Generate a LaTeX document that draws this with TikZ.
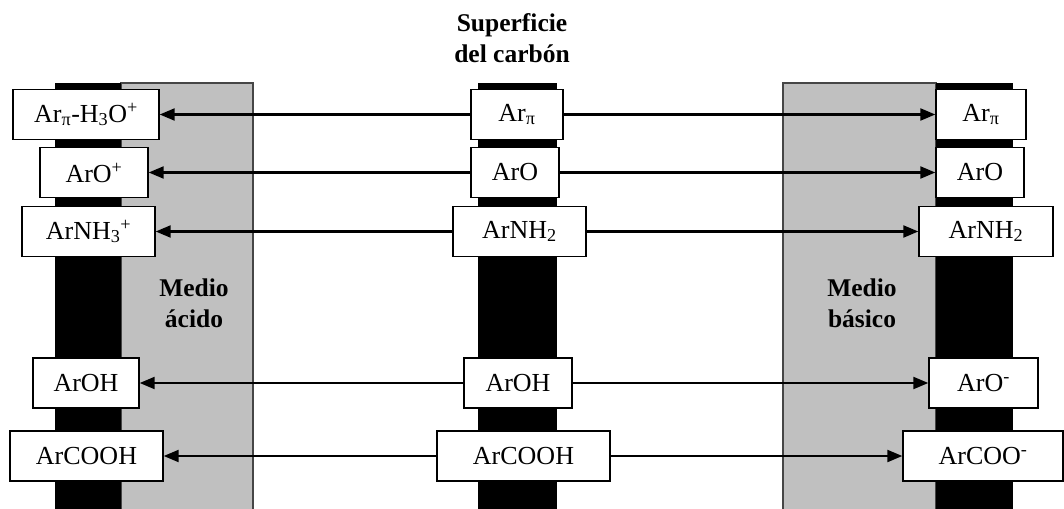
\documentclass[tikz,border=0pt]{standalone}
\usepackage{fontspec}
\setmainfont{Liberation Serif}
\usetikzlibrary{arrows.meta}
\definecolor{medgray}{RGB}{192,192,192}
\definecolor{edgegray}{RGB}{70,70,70}
\tikzset{
  box/.style={draw=black, line width=1.4pt, fill=white, inner sep=0pt, minimum height=50pt,
    font=\fontsize{26}{30}\selectfont},
  arr/.style={line width=2.2pt, -{Triangle[length=15pt,width=12pt]}},
  lbl/.style={font=\fontsize{25.5}{31}\selectfont\bfseries, align=center, inner sep=0pt},
  bar/.style={fill=black},
  medio/.style={fill=medgray, draw=edgegray, line width=1.3pt}
}
\begin{document}
\begin{tikzpicture}[x=1pt,y=-1pt]
\useasboundingbox (0,0) rectangle (1064,508);
% media
\draw[medio] (121,83) rectangle (253,512);
\draw[medio] (783,83) rectangle (936,512);
% bars
\fill[bar] (55,83) rectangle (121,512);
\fill[bar] (478,83) rectangle (557,512);
\fill[bar] (936,83) rectangle (1013,512);
% center boxes
\node[box, minimum width=92pt]  (C1) at (517,114.5) {Ar\textsubscript{π}};
\node[box, minimum width=88pt]  (C2) at (515,172.5) {ArO};
\node[box, minimum width=133pt] (C3) at (519.5,231.5) {ArNH\textsubscript{2}};
\node[box, minimum width=108pt] (C4) at (518,383) {ArOH};
\node[box, minimum width=173pt] (C5) at (523.5,456) {ArCOOH};
% left boxes
\node[box, minimum width=146pt] (L1) at (86,114.5) {Ar\textsubscript{π}-H\textsubscript{3}O\textsuperscript{+}};
\node[box, minimum width=108pt] (L2) at (94,172.5) {ArO\textsuperscript{+}};
\node[box, minimum width=133pt] (L3) at (88.5,231.5) {ArNH\textsubscript{3}\textsuperscript{+}};
\node[box, minimum width=106pt] (L4) at (86,383) {ArOH};
\node[box, minimum width=153pt] (L5) at (86.5,456) {ArCOOH};
% right boxes
\node[box, minimum width=90pt]  (R1) at (981,114.5) {Ar\textsubscript{π}};
\node[box, minimum width=88pt]  (R2) at (980,172.5) {ArO};
\node[box, minimum width=134pt] (R3) at (986,231.5) {ArNH\textsubscript{2}};
\node[box, minimum width=109pt] (R4) at (983.5,383) {ArO\textsuperscript{-}};
\node[box, minimum width=160pt] (R5) at (983,456) {ArCOO\textsuperscript{-}};
% arrows
\foreach \i in {1,...,5}{
  \draw[arr] (C\i.west) -- (L\i.east);
  \draw[arr] (C\i.east) -- (R\i.west);
}
% labels
\node[lbl] (sup) at (512,38) {Superficie\\del carbón};
\node[lbl] (acid) at (194,303) {Medio\\ácido};
\node[lbl] (bas) at (862,303) {Medio\\básico};
\end{tikzpicture}
\end{document}
